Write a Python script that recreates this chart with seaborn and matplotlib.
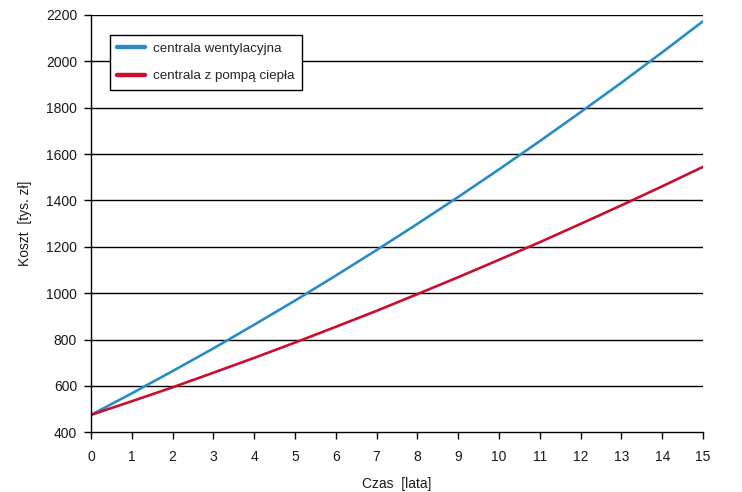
import matplotlib
matplotlib.use("Agg")
import matplotlib.pyplot as plt
import seaborn as sns
import pandas as pd

years = list(range(16))
wentylacyjna = [475, 568, 664, 762, 864, 968, 1076, 1186, 1299, 1415, 1534, 1656, 1781, 1908, 2039, 2173]
pompa = [475, 534, 594, 657, 721, 787, 855, 924, 996, 1069, 1144, 1220, 1299, 1379, 1461, 1545]
series_names = ["centrala wentylacyjna", "centrala z pompą ciepła"]
y_ticks = list(range(400, 2201, 200))

df = pd.DataFrame({
    "Czas": years * 2,
    "Koszt": wentylacyjna + pompa,
    "Seria": [series_names[0]] * len(years) + [series_names[1]] * len(years),
})

sns.set_style("white")
plt.rcParams['font.family'] = ['Liberation Sans', 'DejaVu Sans']

fig = plt.figure(figsize=(7.42, 4.92), dpi=100)
ax = fig.add_axes([91/742, 1 - 432.3/492, (703-91)/742, (432.3-15)/492])

sns.lineplot(data=df, x="Czas", y="Koszt", hue="Seria",
             palette=["#2a8cc4", "#c8102e"], linewidth=1.9, ax=ax, legend=True)

ax.set_xlim(0, 15)
ax.set_ylim(400, 2200)
ax.set_xticks(years)
ax.set_yticks(y_ticks)
for y in y_ticks[1:]:
    ax.axhline(y, color="black", linewidth=1.0, zorder=0)

for s in ["top", "right"]:
    ax.spines[s].set_visible(False)
for s in ["left", "bottom"]:
    ax.spines[s].set_color("black")
    ax.spines[s].set_linewidth(1.0)

fs = 10
ax.tick_params(axis="both", which="major", direction="out", length=5, width=1,
               color="black", labelsize=fs, labelcolor="#1a1a1a")
ax.tick_params(axis="x", pad=8)
ax.tick_params(axis="y", pad=5)
ax.tick_params(left=True, bottom=True)

ax.set_xlabel("Czas  [lata]", fontsize=fs, color="#1a1a1a", labelpad=9)
ax.set_ylabel("Koszt  [tys. zł]", fontsize=fs, color="#1a1a1a", labelpad=10)

handles, labels = ax.get_legend_handles_labels()
for h in handles:
    h.set_linewidth(3.2)
leg = ax.legend(handles, labels, loc="upper left", bbox_to_anchor=(0.031, 0.952),
                borderaxespad=0, frameon=True, fancybox=False, fontsize=9.6,
                handlelength=2.1, handletextpad=0.6, labelspacing=1.15,
                borderpad=0.55, edgecolor="black", framealpha=1)
leg.get_frame().set_linewidth(1.0)

fig.savefig("out.png", dpi=100)
